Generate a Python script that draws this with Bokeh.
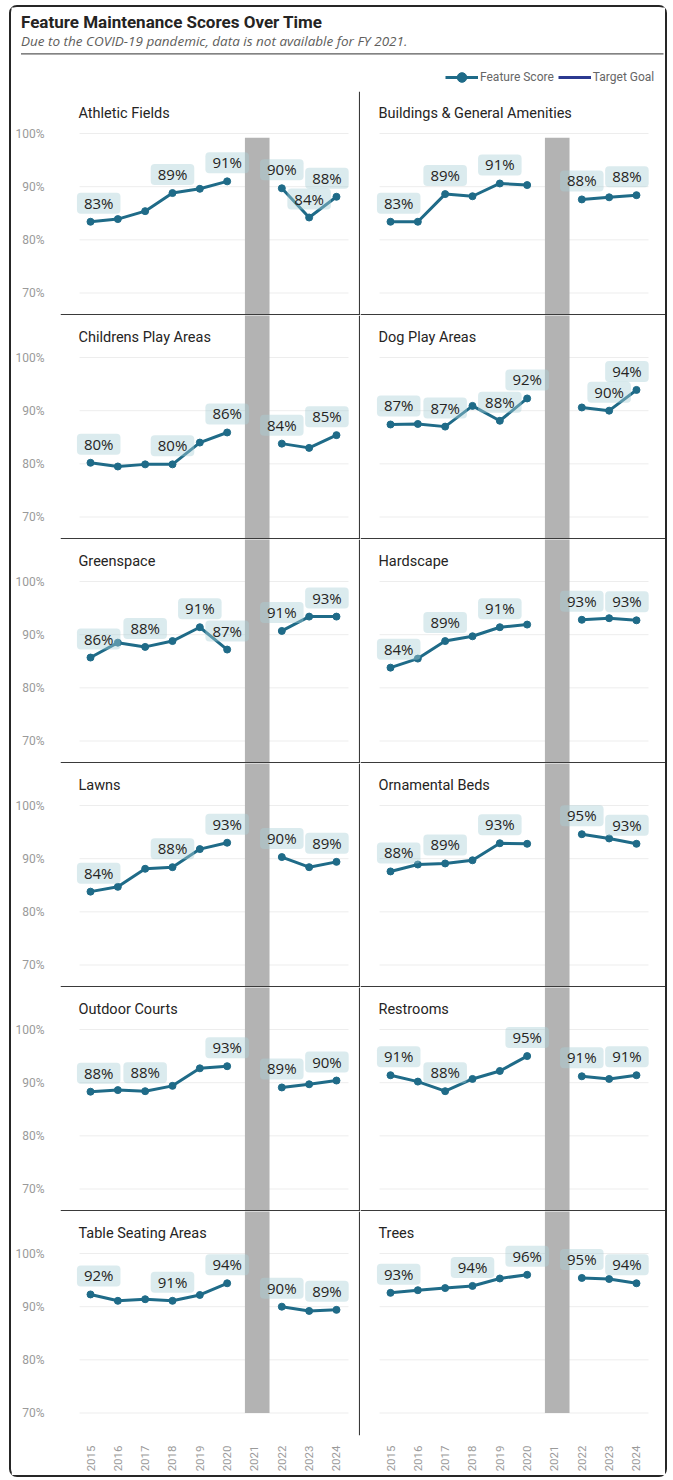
import math

from bokeh.core.properties import value
from bokeh.embed import file_html
from bokeh.layouts import column, row
from bokeh.models import (ColumnDataSource, FixedTicker, Legend, LegendItem,
                          PrintfTickFormatter, Range1d, Span)
from bokeh.plotting import figure
from bokeh.resources import INLINE

NA = float("nan")

# ---- data -------------------------------------------------------------
years = [2015, 2016, 2017, 2018, 2019, 2020, 2021, 2022, 2023, 2024]
gap_year = 2021                      # FY 2021: no survey (COVID-19)
pct_ticks = [70, 80, 90, 100]

features = [
    "Athletic Fields", "Buildings & General Amenities",
    "Childrens Play Areas", "Dog Play Areas",
    "Greenspace", "Hardscape",
    "Lawns", "Ornamental Beds",
    "Outdoor Courts", "Restrooms",
    "Table Seating Areas", "Trees",
]

athletic_fields = [83.4, 83.9, 85.4, 88.8, 89.6, 91.0, NA, 89.7, 84.2, 88.1]
buildings_amenities = [83.4, 83.4, 88.6, 88.2, 90.6, 90.3, NA, 87.6, 88.0, 88.4]
childrens_play = [80.2, 79.5, 79.9, 79.9, 84.0, 85.9, NA, 83.8, 83.0, 85.4]
dog_play = [87.4, 87.5, 87.0, 90.9, 88.1, 92.3, NA, 90.6, 90.0, 93.9]
greenspace = [85.7, 88.5, 87.7, 88.8, 91.4, 87.2, NA, 90.7, 93.4, 93.4]
hardscape = [83.8, 85.5, 88.8, 89.7, 91.4, 91.9, NA, 92.8, 93.1, 92.7]
lawns = [83.8, 84.7, 88.1, 88.4, 91.8, 93.0, NA, 90.3, 88.4, 89.4]
ornamental_beds = [87.6, 88.9, 89.1, 89.7, 92.9, 92.8, NA, 94.6, 93.8, 92.8]
outdoor_courts = [88.3, 88.6, 88.4, 89.4, 92.7, 93.1, NA, 89.1, 89.7, 90.4]
restrooms = [91.4, 90.2, 88.4, 90.7, 92.2, 95.0, NA, 91.2, 90.7, 91.4]
table_seating = [92.3, 91.1, 91.4, 91.1, 92.2, 94.4, NA, 90.0, 89.2, 89.4]
trees = [92.6, 93.1, 93.5, 93.9, 95.3, 96.0, NA, 95.4, 95.2, 94.4]

# years whose point carries a data label
athletic_fields_lab = [2015, 2018, 2020, 2022, 2023, 2024]
buildings_amenities_lab = [2015, 2017, 2019, 2022, 2024]
childrens_play_lab = [2015, 2018, 2020, 2022, 2024]
dog_play_lab = [2015, 2017, 2019, 2020, 2023, 2024]
greenspace_lab = [2015, 2017, 2019, 2020, 2022, 2024]
hardscape_lab = [2015, 2017, 2019, 2022, 2024]
lawns_lab = [2015, 2018, 2020, 2022, 2024]
ornamental_beds_lab = [2015, 2017, 2019, 2022, 2024]
outdoor_courts_lab = [2015, 2017, 2020, 2022, 2024]
restrooms_lab = [2015, 2017, 2020, 2022, 2024]
table_seating_lab = [2015, 2018, 2020, 2022, 2024]
trees_lab = [2015, 2018, 2020, 2022, 2024]

series = [athletic_fields, buildings_amenities, childrens_play, dog_play,
          greenspace, hardscape, lawns, ornamental_beds,
          outdoor_courts, restrooms, table_seating, trees]
label_years = [athletic_fields_lab, buildings_amenities_lab, childrens_play_lab,
               dog_play_lab, greenspace_lab, hardscape_lab, lawns_lab,
               ornamental_beds_lab, outdoor_courts_lab, restrooms_lab,
               table_seating_lab, trees_lab]

# ---- styling / layout -------------------------------------------------
LINE = "#1f6b88"
BAR = "#b3b3b3"
RULE = "#3a3a3a"
TXT = "#252423"
AX = "#9a9a9a"
UI_FONT = value("Roboto")
LAB_FONT = value("Open Sans")

PX_PER_YEAR = 27.33
X0 = 2013.902                      # left edge of each panel frame
GRID_X0, GRID_X1 = 2014.6, 2024.44  # extent of the gridlines
LAB_X_MIN, LAB_X_MAX = 2015.3, 2023.65
Y_LO, Y_HI = 65.77, 107.9
LEFT_W, RIGHT_W = 349, 305
LEFT_PAD = 49
ROW_H = 224
XAXIS_H = 40
N_ROWS = 6


def make_panel(idx):
    r, c = divmod(idx, 2)
    first, last = r == 0, r == N_ROWS - 1
    left = c == 0
    frame_w = (LEFT_W - LEFT_PAD) if left else RIGHT_W
    p = figure(
        width=LEFT_W if left else RIGHT_W,
        height=ROW_H + (XAXIS_H if last else 0),
        x_range=Range1d(X0, X0 + frame_w / PX_PER_YEAR),
        y_range=Range1d(Y_LO, Y_HI),
        x_axis_location="below" if last else None,
        y_axis_location="left" if left else None,
        min_border_left=LEFT_PAD if left else 0,
        min_border_right=0, min_border_top=0,
        min_border_bottom=XAXIS_H if last else 0,
        output_backend="svg", toolbar_location=None,
        background_fill_color="white", border_fill_color="white",
    )
    p.outline_line_color = None
    p.grid.visible = False

    if left:
        ya = p.yaxis[0]
        ya.ticker = FixedTicker(ticks=pct_ticks)
        ya.formatter = PrintfTickFormatter(format="%d%%")
        ya.axis_line_color = None
        ya.major_tick_line_color = None
        ya.minor_tick_line_color = None
        ya.major_label_standoff = 10
        ya.major_label_text_font = "Roboto"
        ya.major_label_text_font_size = "12px"
        ya.major_label_text_color = AX
    if last:
        xa = p.xaxis[0]
        xa.ticker = FixedTicker(ticks=years)
        xa.major_label_orientation = math.pi / 2
        xa.axis_line_color = None
        xa.major_tick_line_color = None
        xa.minor_tick_line_color = None
        xa.major_label_standoff = 4
        xa.major_label_text_font = "Roboto"
        xa.major_label_text_font_size = "11.5px"
        xa.major_label_text_color = AX

    # horizontal gridlines
    p.segment(x0=[GRID_X0] * len(pct_ticks), x1=[GRID_X1] * len(pct_ticks),
              y0=pct_ticks, y1=pct_ticks, line_color="#ededed", line_width=1)

    # FY 2021 band
    p.quad(left=[gap_year - 0.35], right=[gap_year + 0.55],
           top=[99.2 if first else Y_HI + 5], bottom=[70 if last else Y_LO - 5],
           fill_color=BAR, line_color=None)

    scores = series[idx]
    src = ColumnDataSource(dict(year=years, score=scores))
    p.line("year", "score", source=src, line_color=LINE, line_width=3)
    p.scatter("year", "score", source=src, size=7, fill_color=LINE,
              line_color=LINE)

    lab = [(y, s) for y, s in zip(years, scores) if y in label_years[idx]]
    p.text(
        x=[min(max(y, LAB_X_MIN), LAB_X_MAX) for y, _ in lab],
        y=[s for _, s in lab],
        text=[f"{round(s)}%" for _, s in lab],
        text_font=LAB_FONT, text_font_size="15px", text_color=TXT,
        text_align="center", text_baseline="bottom", y_offset=-8,
        background_fill_color="#aacfd6", background_fill_alpha=0.42,
        padding=dict(left=7, right=7, top=0, bottom=1), border_radius=4,
    )

    p.text(x=[2014.56], y=[103.82], text=[features[idx]], text_font=UI_FONT,
           text_font_size="14.5px", text_color=TXT, text_baseline="middle",
           text_align="left")

    if not last:
        p.add_layout(Span(location=Y_LO + 0.14, dimension="width",
                          line_color=RULE, line_width=1.5))
    if left:
        p.add_layout(Span(location=X0 + frame_w / PX_PER_YEAR - 0.03,
                          dimension="height", line_color=RULE, line_width=1.5))
    return p


# ---- header: title, subtitle, legend ----------------------------------
hdr = figure(width=LEFT_W + RIGHT_W, height=84,
             x_range=Range1d(11, 665), y_range=Range1d(91, 7),
             x_axis_location=None, y_axis_location=None,
             min_border=0, output_backend="svg", toolbar_location=None,
             background_fill_color="white", border_fill_color="white")
hdr.outline_line_color = None
hdr.grid.visible = False
hdr.text(x=[20.5], y=[21.5], text=["Feature Maintenance Scores Over Time"],
         text_font=UI_FONT, text_font_style="bold", text_font_size="17px",
         text_color=TXT, text_baseline="middle")
hdr.text(x=[20.5], y=[40.5],
         text=["Due to the COVID-19 pandemic, data is not available for FY 2021."],
         text_font=LAB_FONT, text_font_style="italic", text_font_size="13.5px",
         text_color="#605e5c", text_baseline="middle")
hdr.segment(x0=[20.5], x1=[663], y0=[53.3], y1=[53.3], line_color="#5a5a5a",
            line_width=1.3)

# legend swatches: renderers with no drawable point, only their styles show
proxy = ColumnDataSource(dict(x=[NA], y=[NA]))
lg_line = hdr.line("x", "y", source=proxy, line_color=LINE, line_width=3)
lg_dot = hdr.scatter("x", "y", source=proxy, size=10, fill_color=LINE,
                     line_color=LINE)
lg_goal = hdr.line("x", "y", source=proxy, line_color="#2b3990", line_width=3)
legend = Legend(
    items=[LegendItem(label="Feature Score", renderers=[lg_line, lg_dot]),
           LegendItem(label="Target Goal", renderers=[lg_goal])],
    orientation="horizontal", location=(434, 2),
    glyph_width=33, glyph_height=24, label_height=24, label_standoff=2,
    spacing=4, padding=0, margin=0,
    label_text_font="Roboto", label_text_font_size="12px",
    label_text_color="#666666",
    background_fill_alpha=0, border_line_color=None,
)
hdr.add_layout(legend)

panels = [make_panel(i) for i in range(len(features))]
rows = [row(panels[2 * r], panels[2 * r + 1]) for r in range(N_ROWS)]

root = column(hdr, *rows,
              styles={"border": "2px solid #262626", "border-radius": "8px",
                      "margin-left": "9px", "margin-top": "5px"})

open("out.html", "w").write(file_html(root, INLINE))
